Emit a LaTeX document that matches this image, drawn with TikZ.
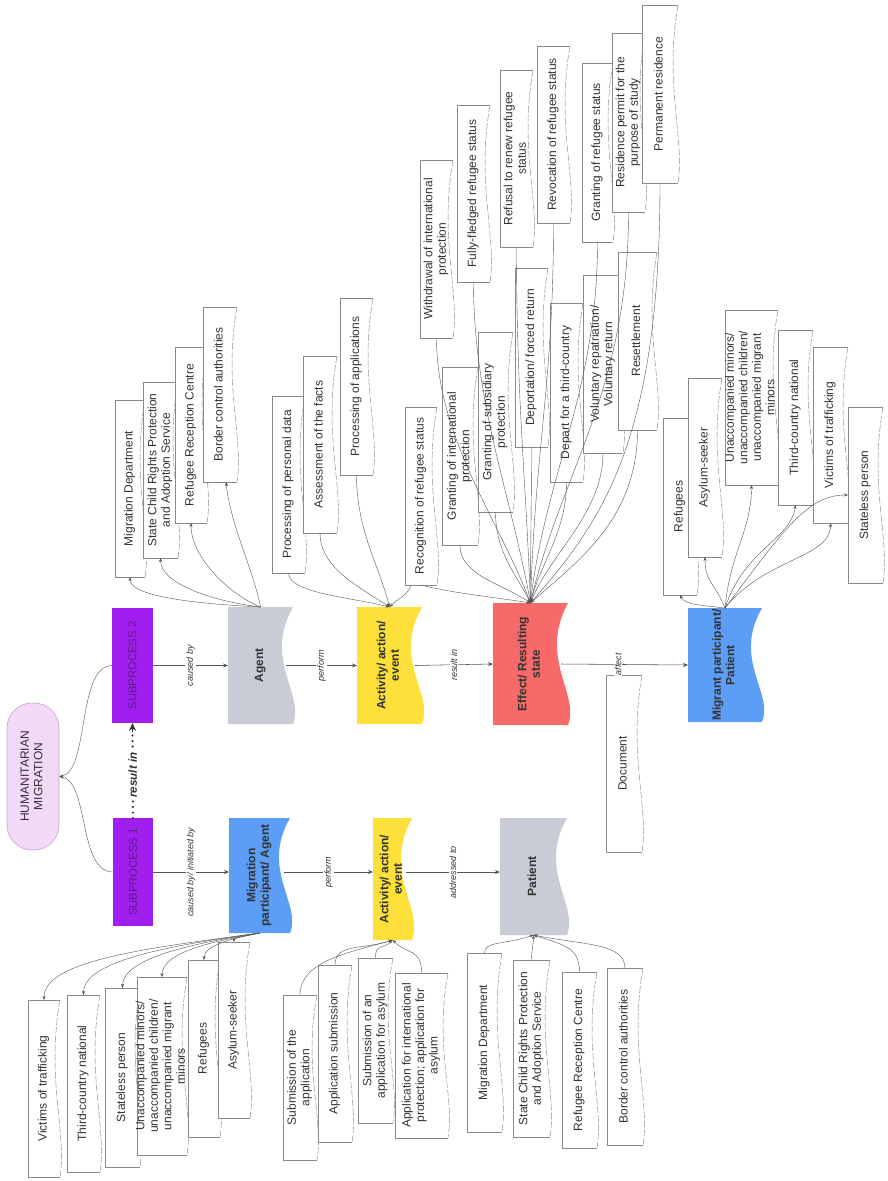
\documentclass[tikz,border=0pt]{standalone}
\usepackage{fontspec}
\setmainfont{Liberation Sans}
\usetikzlibrary{arrows.meta,calc}
\definecolor{spurple}{HTML}{A01FEF}
\definecolor{sptext}{HTML}{5A1A80}
\definecolor{hmfill}{HTML}{F3D9F8}
\definecolor{hmdraw}{HTML}{C6A2D2}
\definecolor{cblue}{HTML}{5C9DF6}
\definecolor{cgray}{HTML}{C9CCD4}
\definecolor{cyellow}{HTML}{FDE03A}
\definecolor{cred}{HTML}{F86A6A}
\definecolor{txtgray}{HTML}{333333}
\definecolor{lngray}{HTML}{8A8A8A}
\definecolor{conngray}{HTML}{555555}
\tikzset{
  wline/.style={draw=lngray,line width=0.45pt},
  boxnode/.style={inner sep=0pt,outer sep=0pt},
  conn/.style={draw=conngray,line width=0.4pt,-{Stealth[length=4pt,width=3pt]}},
  marr/.style={draw=conngray,line width=0.55pt,-{Stealth[length=5pt,width=4pt]}},
  lbl/.style={fill=white,inner sep=1pt}
}
\newcommand{\wtxt}[1]{\rotatebox{90}{\fontsize{12}{13.5}\selectfont\color{txtgray}\begin{tabular}{@{}c@{}}#1\end{tabular}}}
\newcommand{\ctxt}[1]{\rotatebox{90}{\fontsize{12}{13.5}\selectfont\bfseries\color{txtgray}\begin{tabular}{@{}c@{}}#1\end{tabular}}}
\newcommand{\lab}[1]{\rotatebox{90}{\fontsize{9}{10}\selectfont\itshape\color{txtgray}#1}}
% white document box: name, x1, y1, x2, y2, text
\newcommand{\wbox}[6]{%
  \fill[white] (#2,#3) -- (#4,#3) .. controls ({#4-14},{#3+0.45*(#5-#3)}) and ({#4+7},{#3+0.75*(#5-#3)}) .. (#4,#5) -- (#2,#5) -- cycle;
  \draw[wline] (#4,#3) -- (#2,#3) -- (#2,#5) -- (#4,#5);
  \draw[wline,dash pattern=on 7pt off 2pt] (#4,#3) .. controls ({#4-14},{#3+0.45*(#5-#3)}) and ({#4+7},{#3+0.75*(#5-#3)}) .. (#4,#5);
  \node[boxnode,minimum width={(#4-#2)*1pt},minimum height={(#5-#3)*1pt}] (#1) at ({(#2+#4)/2},{(#3+#5)/2}) {\wtxt{#6}};%
}
% coloured document box: name, x1, y1, x2, y2, colour, text
\newcommand{\cbox}[7]{%
  \fill[#6] (#2,#3) -- (#4,#3) .. controls ({#4-30},{#3+0.45*(#5-#3)}) and ({#4+12},{#3+0.75*(#5-#3)}) .. (#4,#5) -- (#2,#5) -- cycle;
  \node[boxnode,minimum width={(#4-#2)*1pt},minimum height={(#5-#3)*1pt}] (#1) at ({(#2+#4)/2},{(#3+#5)/2}) {\ctxt{#7}};%
}
\begin{document}
\begin{tikzpicture}[x=1pt,y=-1pt]
\useasboundingbox (0,0) rectangle (888,1181);
\fill[white] (0,0) rectangle (888,1181);

% ---------- top node ----------
\node[draw=hmdraw,fill=hmfill,line width=0.6pt,rounded corners=25pt,minimum width=52pt,minimum height=147pt,inner sep=0pt] (hm) at (33,776.5)
  {\rotatebox{90}{\fontsize{12}{13.5}\selectfont\color{txtgray}\begin{tabular}{@{}c@{}}HUMANITARIAN\\MIGRATION\end{tabular}}};

% ---------- subprocesses ----------
\fill[spurple] (112,608) rectangle (153,723);
\node[boxnode,minimum width=41pt,minimum height=115pt] (sp2) at (132.5,665.5)
  {\rotatebox{90}{\fontsize{11.3}{12}\selectfont\color{sptext}SUBPROCESS 2}};
\fill[spurple] (113,818) rectangle (153,926);
\node[boxnode,minimum width=40pt,minimum height=108pt] (sp1) at (133,872)
  {\rotatebox{90}{\fontsize{11.3}{12}\selectfont\color{sptext}SUBPROCESS 1}};

% ---------- coloured nodes ----------
\cbox{agent}{228}{607}{293}{724}{cgray}{Agent}
\cbox{act2}{357}{607}{422}{724}{cyellow}{Activity/ action/\\event}
\cbox{effect}{493}{603}{568}{725}{cred}{Effect/ Resulting\\state}
\cbox{patient2}{688}{608}{762}{722}{cblue}{Migrant participant/\\Patient}
\cbox{agent1}{229}{818}{290}{933}{cblue}{Migration\\participant/ Agent}
\cbox{act1}{373}{818}{412}{940}{cyellow}{Activity/ action/\\event}
\cbox{patient1}{500}{818}{567}{935}{cgray}{Patient}

% ---------- white boxes: agent ----------
\wbox{md}{115}{400}{145}{577}{Migration Department}
\wbox{sc}{143}{382}{178}{558}{State Child Rights Protection\\and Adoption Service}
\wbox{rrc}{175}{347}{207}{523}{Refugee Reception Centre}
\wbox{bca}{203}{307}{237}{482}{Border control authorities}
% activity (upper)
\wbox{ppd}{272}{396}{305}{573}{Processing of personal data}
\wbox{af}{303}{356}{337}{533}{Assessment of the facts}
\wbox{pa}{340}{298}{373}{475}{Processing of applications}
\wbox{rrs}{405}{407}{437}{585}{Recognition of refugee status}
% effect
\wbox{wip}{420}{160}{453}{338}{Withdrawal of international\\protection}
\wbox{ff}{457}{105}{490}{282}{Fully-fledged refugee status}
\wbox{rrr}{500}{70}{533}{247}{Refusal to renew refugee\\status}
\wbox{rors}{537}{46}{570}{223}{Revocation of refugee status}
\wbox{grs}{582}{63}{613}{242}{Granting of refugee status}
\wbox{rp}{612}{33}{645}{212}{Residence permit for the\\purpose of study}
\wbox{pr}{642}{5}{678}{183}{Permanent residence}
\wbox{gip}{442}{367}{478}{545}{Granting of international\\protection}
\wbox{gsp}{478}{332}{513}{512}{Granting of subsidiary\\protection}
\wbox{dfr}{515}{268}{548}{447}{Deportation/ forced return}
\wbox{dtc}{550}{303}{583}{482}{Depart for a third-country}
\wbox{vr}{583}{275}{623}{453}{Voluntary repatriation/\\Voluntary return}
\wbox{rs}{618}{252}{657}{430}{Resettlement}
% migrant participant / patient
\wbox{ref2}{663}{418}{697}{595}{Refugees}
\wbox{asy2}{688}{378}{722}{557}{Asylum-seeker}
\wbox{una2}{725}{310}{778}{485}{Unaccompanied minors/\\unaccompanied children/\\unaccompanied migrant\\minors}
\wbox{tcn2}{778}{330}{813}{505}{Third-country national}
\wbox{vot2}{813}{347}{848}{523}{Victims of trafficking}
\wbox{spn2}{848}{407}{883}{583}{Stateless person}
% document
\wbox{doc}{606}{675}{642}{852}{Document}
% migration participant / agent
\wbox{vot1}{28}{1000}{60}{1177}{Victims of trafficking}
\wbox{tcn1}{67}{995}{100}{1172}{Third-country national}
\wbox{spn1}{105}{988}{140}{1167}{Stateless person}
\wbox{una1}{137}{977}{187}{1155}{Unaccompanied minors/\\unaccompanied children/\\unaccompanied migrant\\minors}
\wbox{ref1}{188}{960}{220}{1137}{Refugees}
\wbox{asy1}{218}{942}{250}{1118}{Asylum-seeker}
% activity (lower)
\wbox{soa}{283}{995}{317}{1160}{Submission of the\\application}
\wbox{asub}{318}{965}{352}{1142}{Application submission}
\wbox{sub}{358}{958}{393}{1123}{Submission of an\\application for asylum}
\wbox{afi}{395}{973}{448}{1138}{Application for international\\protection; application for\\asylum}
% patient (lower)
\wbox{md1}{467}{953}{502}{1132}{Migration Department}
\wbox{sc1}{513}{960}{550}{1137}{State Child Rights Protection\\and Adoption Service}
\wbox{rrc1}{562}{972}{597}{1148}{Refugee Reception Centre}
\wbox{bca1}{607}{968}{643}{1145}{Border control authorities}

% ---------- main connectors ----------
\draw[conn] (sp1.west) .. controls +(-35,0) and +(30,5) .. (hm.east);
\draw[conn] (sp2.west) .. controls +(-35,0) and +(30,-5) .. (hm.east);
\draw[draw=txtgray,line width=2.4pt,dash pattern=on 0pt off 5.5pt,line cap=round]
  (sp1.north) -- ([yshift=-9pt]sp2.south)
  node[midway,lbl] {\rotatebox{90}{\fontsize{11.6}{12}\selectfont\bfseries\itshape\color{txtgray}result in}};
\draw[draw=txtgray,line width=0.8pt,-{Stealth[length=8pt,width=7pt]}] ([yshift=-9pt]sp2.south) -- (sp2.south);

\draw[marr] (sp2.east) -- (agent.west) node[midway,lbl] {\lab{caused by}};
\draw[marr] ([xshift=-7pt]agent.east) -- (act2.west) node[midway,lbl] {\lab{perform}};
\draw[marr] ([xshift=-7pt]act2.east) -- (effect.west) node[midway,lbl] {\lab{result in}};
\draw[marr] ([xshift=-7pt]effect.east) -- (patient2.west) node[pos=0.45,lbl] {\lab{affect}};

\draw[marr] (sp1.east) -- (sp1.east -| agent1.west) node[midway,lbl] {\lab{caused by/ initiated by}};
\draw[marr] ([xshift=-6pt]agent1.east |- sp1.east) -- (sp1.east -| act1.west) node[midway,lbl] {\lab{perform}};
\draw[marr] ([xshift=-6pt]act1.east |- sp1.east) -- (sp1.east -| patient1.west) node[midway,lbl] {\lab{addressed to}};

% ---------- agent (upper) ----------
\draw[conn] (agent.north) .. controls +(-60,-3) and +(0,20) .. (md.south);
\draw[conn] (agent.north) .. controls +(-50,-6) and +(0,25) .. (sc.south);
\draw[conn] (agent.north) .. controls +(-30,-12) and +(0,35) .. (rrc.south);
\draw[conn] (agent.north) .. controls +(-8,-40) and +(5,45) .. ([xshift=6pt]bca.south);

% ---------- activity (upper) ----------
\draw[conn] (ppd.south) .. controls +(0,20) and +(-40,-10) .. (act2.north);
\draw[conn] (af.south) .. controls +(0,35) and +(-30,-20) .. (act2.north);
\draw[conn] (pa.south) .. controls +(0,55) and +(-10,-40) .. (act2.north);
\draw[conn] ([xshift=-10pt]rrs.south) .. controls +(-3,10) and +(8,-8) .. (act2.north);

% ---------- effect ----------
\draw[conn] (rrs.south) .. controls +(30,8) and +(-30,-5) .. (effect.north);
\draw[conn] (gip.south) .. controls +(0,30) and +(-30,-20) .. (effect.north);
\draw[conn] (gsp.south) .. controls +(0,40) and +(-15,-30) .. (effect.north);
\draw[conn] (dfr.south) .. controls +(0,60) and +(0,-60) .. (effect.north);
\draw[conn] (dtc.south) .. controls +(0,50) and +(10,-40) .. (effect.north);
\draw[conn] (vr.south) .. controls +(0,60) and +(20,-50) .. (effect.north);
\draw[conn] (rs.south) .. controls +(0,90) and +(45,-40) .. (effect.north);
\draw[conn] (wip.south) .. controls +(0,100) and +(-30,-80) .. (effect.north);
\draw[conn] (ff.south) .. controls +(0,120) and +(-20,-110) .. (effect.north);
\draw[conn] (rrr.south) .. controls +(0,150) and +(-5,-130) .. (effect.north);
\draw[conn] (rors.south) .. controls +(0,160) and +(5,-160) .. (effect.north);
\draw[conn] (grs.south) .. controls +(0,150) and +(15,-130) .. (effect.north);
\draw[conn] (rp.south) .. controls +(0,180) and +(30,-130) .. (effect.north);
\draw[conn] (pr.south) .. controls +(0,260) and +(70,-80) .. (effect.north);

% ---------- migrant participant / patient ----------
\draw[conn] (patient2.north) .. controls +(-25,-3) and +(5,10) .. (ref2.south);
\draw[conn] (patient2.north) .. controls +(-10,-25) and +(0,25) .. (asy2.south);
\draw[conn] (patient2.north) .. controls +(5,-55) and +(0,45) .. (una2.south);
\draw[conn] (patient2.north) .. controls +(20,-60) and +(-5,35) .. (tcn2.south);
\draw[conn] (patient2.north) .. controls +(40,-50) and +(0,35) .. (vot2.south);
\draw[conn] (patient2.north) .. controls +(60,-80) and +(-40,0) .. (spn2.west);

% ---------- migration participant / agent ----------
\draw[conn] (agent1.south) .. controls +(-110,15) and +(0,-40) .. (vot1.north);
\draw[conn] (agent1.south) .. controls +(-85,12) and +(0,-35) .. (tcn1.north);
\draw[conn] (agent1.south) .. controls +(-65,10) and +(0,-30) .. (spn1.north);
\draw[conn] (agent1.south) .. controls +(-45,8) and +(0,-25) .. (una1.north);
\draw[conn] (agent1.south) .. controls +(-25,5) and +(0,-15) .. (ref1.north);
\draw[conn] (agent1.south) .. controls +(-10,3) and +(0,-5) .. (asy1.north);

% ---------- activity (lower) ----------
\draw[conn] (soa.north) .. controls +(0,-35) and +(-40,12) .. (act1.south);
\draw[conn] (asub.north) .. controls +(0,-22) and +(-30,10) .. (act1.south);
\draw[conn] (sub.north) .. controls +(0,-15) and +(-10,10) .. (act1.south);
\draw[conn] (afi.north) .. controls +(0,-25) and +(15,15) .. (act1.south);

% ---------- patient (lower) ----------
\draw[conn] (md1.north) .. controls +(0,-12) and +(-30,10) .. (patient1.south);
\draw[conn] (sc1.north) .. controls +(0,-10) and +(0,10) .. (patient1.south);
\draw[conn] (rrc1.north) .. controls +(0,-25) and +(30,10) .. (patient1.south);
\draw[conn] (bca1.north) .. controls +(0,-25) and +(50,10) .. (patient1.south);
\end{tikzpicture}
\end{document}
